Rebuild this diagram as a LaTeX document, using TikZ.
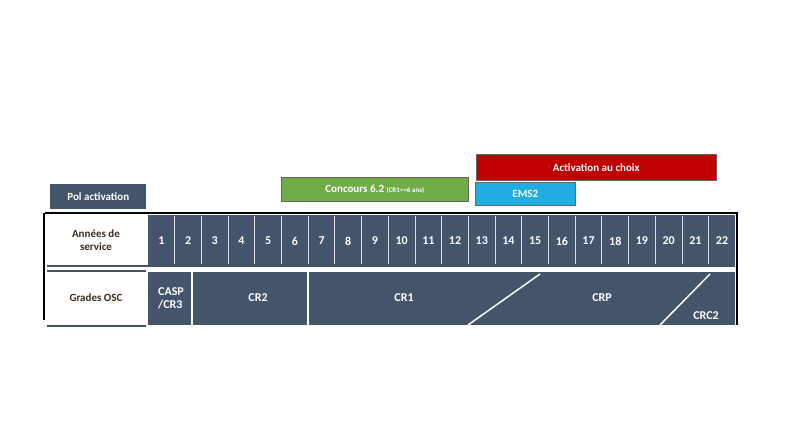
\documentclass[tikz,border=0pt]{standalone}
\usepackage{fontspec}
\setmainfont{Carlito}
\definecolor{dk}{HTML}{44546A}
\definecolor{gr}{HTML}{70AD47}
\definecolor{rd}{HTML}{C00000}
\definecolor{bl}{HTML}{1FADE4}
\definecolor{br}{HTML}{3A2C1C}
\tikzset{bar/.style={draw=black!60,line width=0.6pt,inner sep=0pt,text=white,font=\bfseries\fontsize{11}{12}\selectfont},
wt/.style={text=white,font=\bfseries\fontsize{12}{13}\selectfont},
lab/.style={text=br,font=\bfseries\fontsize{11}{13}\selectfont,align=center}}
\begin{document}
\begin{tikzpicture}[x=1pt,y=-1pt]
\useasboundingbox (0,0) rectangle (792,445);
% top boxes
\node[bar,fill=dk,draw=none,minimum width=96,minimum height=25,anchor=north west] (pol) at (50,184) {Pol activation};
\node[bar,fill=gr,minimum width=187,minimum height=24,anchor=north west] (conc) at (281,177) {Concours 6.2 {\fontsize{7}{8}\selectfont (CR1<=6 ans)}};
\node[bar,fill=rd,minimum width=240,minimum height=26,anchor=north west] (act) at (476,154) {Activation au choix};
\node[bar,fill=bl,minimum width=100,minimum height=23,anchor=north west] (ems) at (475,182) {EMS2};
% frame
\fill[dk] (148,215) rectangle (735,265);
\fill[dk] (148,272) rectangle (735,325);
\draw[black,line width=2pt] (45,213) -- (737,213) -- (737,325);
\draw[black,line width=2pt] (44,213) -- (44,320);
\draw[dk,line width=1.5pt] (47,266) -- (735,266);
\draw[dk,line width=1.5pt] (47,271) -- (146,271);
\draw[dk,line width=1.5pt] (47,326) -- (146,326);
\node[lab] (ann) at (96,240) {Années de\\service};
\node[lab] (gra) at (96,298) {Grades OSC};
\foreach \i in {1,...,22}{
  \node[wt] (c\i) at ({148+26.7*(\i-0.5)},241) {\i};
  \ifnum\i<22 \draw[white!80!dk,line width=1pt] ({148+26.7*\i},216) -- ({148+26.7*\i},264);\fi
}
\draw[white,line width=1.2pt] (192,272) -- (192,325);
\draw[white,line width=1.5pt] (308,272) -- (308,325);
\draw[white,line width=1.5pt] (468,325) -- (540,274);
\draw[white,line width=1.5pt] (660,325) -- (710,274);
\node[wt,align=left] (casp) at (171,298) {CASP\\/CR3};
\node[wt] (cr2) at (258,298) {CR2};
\node[wt] (cr1) at (404,298) {CR1};
\node[wt] (crp) at (602,298) {CRP};
\node[wt] (crc) at (706,316) {CRC2};
\end{tikzpicture}
\end{document}
